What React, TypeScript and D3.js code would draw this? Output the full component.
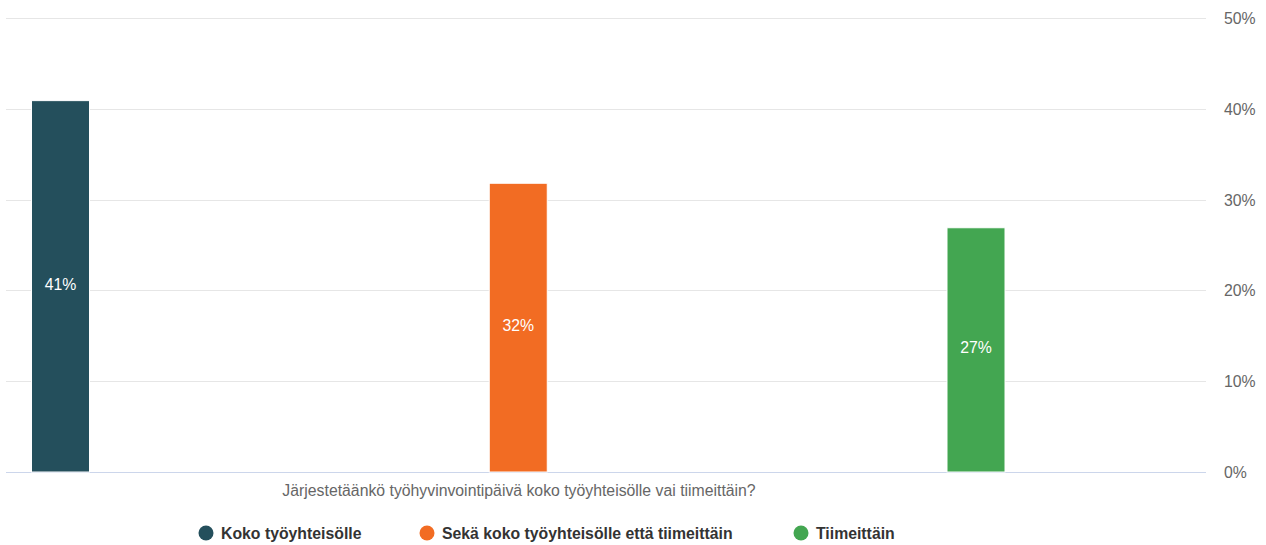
import React from "react";
import * as d3 from "d3";

const categoryTitle = "Järjestetäänkö työhyvinvointipäivä koko työyhteisölle vai tiimeittäin?";
const seriesNames = ["Koko työyhteisölle", "Sekä koko työyhteisölle että tiimeittäin", "Tiimeittäin"];
const seriesValues = [40.9, 31.8, 26.9];
const seriesColors = ["#244f5c", "#f26c23", "#43a651"];
const tickValues = [0, 10, 20, 30, 40, 50];

const W = 1266;
const H = 545;
const plotLeft = 6;
const plotRight = 1206;
const plotTop = 18;
const plotBottom = 472;
const barWidth = 58;
const font = "'Liberation Sans', Arial, Helvetica, sans-serif";
const fs = 15.8;

export default function App() {
  const y = d3.scaleLinear().domain([0, 50]).range([plotBottom, plotTop]);
  const x = d3.scalePoint<string>().domain(seriesNames).range([60.5, 976]);
  const legendX = [206, 427, 801];

  return (
    <svg width={W} height={H} style={{ position: "absolute", left: 0, top: 0, fontFamily: font }}>
      <rect x={0} y={0} width={W} height={H} fill="#ffffff" />
      {tickValues.map((t) => (
        <g key={t}>
          <line
            x1={plotLeft}
            x2={plotRight}
            y1={Math.round(y(t)) + 0.5}
            y2={Math.round(y(t)) + 0.5}
            stroke={t === 0 ? "#ccd6eb" : "#e6e6e6"}
            strokeWidth={1}
          />
          <text x={1224} y={y(t) + 6} fontSize={fs} fill="#666666">
            {t}%
          </text>
        </g>
      ))}
      {seriesNames.map((s, i) => {
        const cx = x(s)!;
        const top = y(seriesValues[i]);
        return (
          <g key={s}>
            <rect
              x={cx - barWidth / 2}
              y={top}
              width={barWidth}
              height={plotBottom - top}
              fill={seriesColors[i]}
              stroke="#ffffff"
              strokeWidth={1}
            />
            <text
              x={cx}
              y={(top + plotBottom) / 2 + 3.5}
              fontSize={fs}
              fill="#ffffff"
              textAnchor="middle"
            >
              {Math.round(seriesValues[i])}%
            </text>
          </g>
        );
      })}
      <text x={519} y={496} fontSize={fs} fill="#666666" textAnchor="middle">
        {categoryTitle}
      </text>
      {seriesNames.map((s, i) => (
        <g key={"l" + s}>
          <circle cx={legendX[i]} cy={533} r={7.5} fill={seriesColors[i]} />
          <text x={legendX[i] + 15} y={539} fontSize={fs} fontWeight="bold" fill="#333333">
            {s}
          </text>
        </g>
      ))}
    </svg>
  );
}
